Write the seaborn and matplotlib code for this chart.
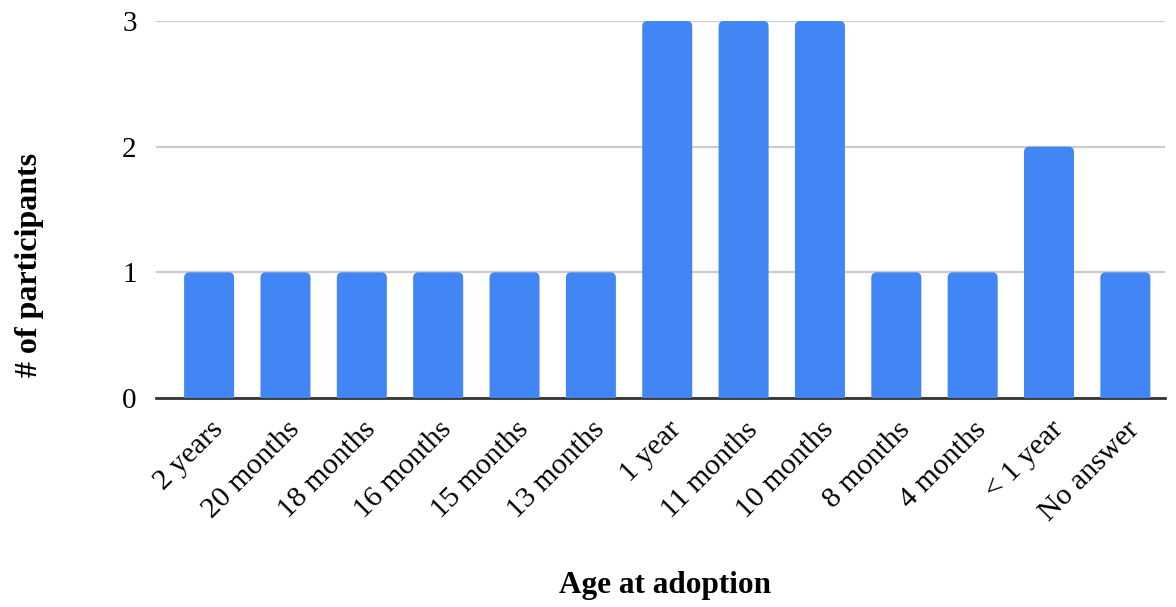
import matplotlib
matplotlib.use("Agg")
import matplotlib.pyplot as plt
from matplotlib.patches import FancyBboxPatch
from matplotlib.transforms import ScaledTranslation
import seaborn as sns
import pandas as pd

categories = ["2 years", "20 months", "18 months", "16 months", "15 months",
              "13 months", "1 year", "11 months", "10 months", "8 months",
              "4 months", "< 1 year", "No answer"]
participants = [1, 1, 1, 1, 1, 1, 3, 3, 3, 1, 1, 2, 1]
y_ticks = [0, 1, 2, 3]

sns.set_theme(style="white")
plt.rcParams["font.family"] = ["Liberation Serif", "DejaVu Serif"]
plt.rcParams["text.color"] = "black"
plt.rcParams["xtick.color"] = "black"
plt.rcParams["ytick.color"] = "black"

df = pd.DataFrame({"age": categories, "count": participants})

fig = plt.figure(figsize=(11.76, 6.07), dpi=100)
ax = fig.add_axes([0.1327, 0.3443, 0.858, 0.6211])

sns.barplot(data=df, x="age", y="count", order=categories, color="#4285F4",
            saturation=1, width=0.655, ax=ax, zorder=3)

# replace the square bars with top-rounded ones
r = 0.07
for bar in list(ax.patches):
    x, w, h = bar.get_x(), bar.get_width(), bar.get_height()
    bar.set_visible(False)
    rounded = FancyBboxPatch((x, -0.2), w, h + 0.2,
                             boxstyle=f"round,pad=0,rounding_size={r}",
                             mutation_aspect=0.62,
                             facecolor="#4285F4", edgecolor="none",
                             zorder=3, clip_on=True)
    ax.add_patch(rounded)

ax.set_xlim(-0.695, 12.52)
ax.set_ylim(0, 3)
ax.set_yticks(y_ticks)
ax.set_yticklabels([str(t) for t in y_ticks], fontsize=21)
ax.tick_params(axis="y", length=0, pad=14)
ax.tick_params(axis="x", length=0, pad=20)

shift = ScaledTranslation(10 / 100, 0, fig.dpi_scale_trans)
for lab in ax.get_xticklabels():
    lab.set_rotation(45)
    lab.set_ha("right")
    lab.set_va("center")
    lab.set_rotation_mode("anchor")
    lab.set_fontsize(21.5)
    lab.set_transform(lab.get_transform() + shift)

ax.yaxis.grid(True, color="#CCCCCC", linewidth=1.6, zorder=0)
ax.set_axisbelow(True)
for side in ["left", "right", "top"]:
    ax.spines[side].set_visible(False)
ax.spines["bottom"].set_color("#333333")
ax.spines["bottom"].set_linewidth(2)
ax.spines["bottom"].set_zorder(2)

ax.set_xlabel("")
ax.set_ylabel("")
fig.text(665 / 1176, 1 - 585 / 607, "Age at adoption", fontsize=22.5,
         fontweight="bold", ha="center", va="center")
fig.text(30 / 1176, 1 - 265 / 607, "# of participants", fontsize=23,
         fontweight="bold", ha="center", va="center", rotation=90)

fig.savefig("out.png", dpi=100, facecolor="white")
